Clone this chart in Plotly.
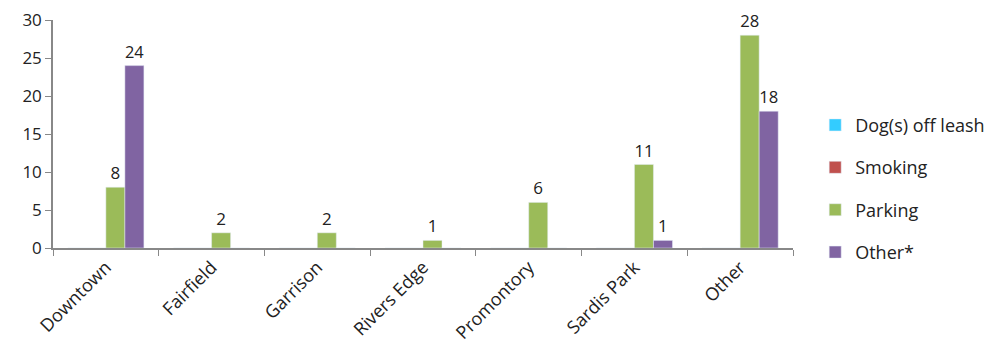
import plotly.graph_objects as go

# Complaint counts by location
locations = ["Downtown", "Fairfield", "Garrison", "Rivers Edge", "Promontory", "Sardis Park", "Other"]
dogs_off_leash = [0, 0, 0, 0, 0, 0, 0]
smoking = [0, 0, 0, 0, 0, 0, 0]
parking = [8, 2, 2, 1, 6, 11, 28]
other_star = [24, 0, 0, 0, 0, 1, 18]

series = [
    ("Dog(s) off leash", dogs_off_leash, "#33CCFF"),
    ("Smoking", smoking, "#C0504D"),
    ("Parking", parking, "#9BBB59"),
    ("Other*", other_star, "#8064A2"),
]

font_family = "Open Sans, Noto Sans, sans-serif"

fig = go.Figure()
for name, vals, color in series:
    fig.add_trace(go.Bar(
        x=locations, y=vals, name=name, legendgroup=name,
        marker=dict(color=color),
        text=[str(v) if v else "" for v in vals],
        textposition="outside", cliponaxis=False,
        textfont=dict(size=17, color="#222222", family=font_family),
    ))

# page body has an 8px margin, so margins are shifted to compensate
fig.update_layout(
    width=1001, height=362,
    margin=dict(l=45, r=216, t=12, b=122, autoexpand=False),
    paper_bgcolor="white", plot_bgcolor="white",
    barmode="group", bargap=0.28, bargroupgap=0,
    font=dict(family=font_family, size=17, color="#222222"),
    showlegend=True,
    legend=dict(x=1.03, xanchor="left", y=0.26, yanchor="middle",
                tracegroupgap=16, font=dict(size=18, color="#222222")),
)
fig.update_xaxes(
    automargin=False,
    showline=True, linecolor="#888888", linewidth=1.5,
    tickson="boundaries", ticks="outside", ticklen=6, tickcolor="#888888",
    tickangle=-45, tickfont=dict(size=18), showgrid=False,
)
fig.update_yaxes(
    automargin=False, ticklabeloverflow="allow",
    range=[0, 30], dtick=5, showline=True, linecolor="#888888", linewidth=1.5,
    ticks="outside", ticklen=6, tickcolor="#888888", showgrid=False, zeroline=False,
    tickfont=dict(size=17),
)

fig.write_html("out.html")
